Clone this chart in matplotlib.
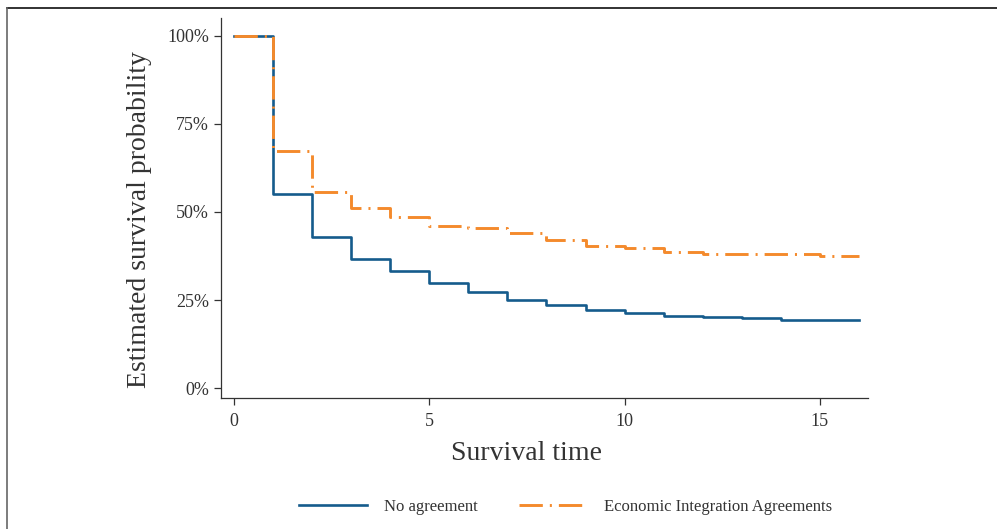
import matplotlib
matplotlib.use("Agg")
from matplotlib import pyplot as plt
from matplotlib.lines import Line2D
from matplotlib.ticker import PercentFormatter

# Kaplan-Meier step values (percent)
times = [0, 1, 2, 3, 4, 5, 6, 7, 8, 9, 10, 11, 12, 13, 14, 15, 16]
no_agreement = [100, 55.2, 43.0, 36.6, 33.2, 29.7, 27.2, 25.1, 23.7, 22.1,
                21.2, 20.4, 20.2, 19.8, 19.3, 19.3, 19.3]
eia = [100, 67.4, 55.6, 51.0, 48.5, 46.0, 45.5, 43.9, 42.1, 40.4,
       39.7, 38.7, 38.1, 38.1, 38.1, 37.4, 37.4]

labels = ["No agreement", "Economic Integration Agreements"]
x_ticks = [0, 5, 10, 15]
y_ticks = [0, 25, 50, 75, 100]

blue = "#155b8c"
orange = "#f48a2c"
dark = "#333333"

plt.rcParams["font.family"] = ["Liberation Serif", "DejaVu Serif"]

fig = plt.figure(figsize=(9.97, 5.29), dpi=100)
ax = fig.add_axes([0.2217, 0.2476, 0.6489, 0.7184])

ax.plot(times, no_agreement, drawstyle="steps-post", color=blue, lw=1.9,
        label=labels[0])
ax.plot(times, eia, drawstyle="steps-post", color=orange, lw=2.1,
        dashes=(8, 2.4, 0.7, 2.4), label=labels[1])

ax.set_xlim(-0.33, 16.23)
ax.set_ylim(-2.84, 105.1)
ax.set_xticks(x_ticks)
ax.set_yticks(y_ticks)
ax.yaxis.set_major_formatter(PercentFormatter(decimals=0))

for side in ["top", "right"]:
    ax.spines[side].set_visible(False)
for side in ["left", "bottom"]:
    ax.spines[side].set_color(dark)
    ax.spines[side].set_linewidth(0.9)
ax.tick_params(axis="both", colors=dark, labelcolor=dark, labelsize=13,
               length=5, width=0.9)
ax.tick_params(axis="x", pad=6)

ax.set_xlabel("Survival time", fontsize=20, color=dark)
ax.set_ylabel("Estimated survival probability", fontsize=20, color=dark)
ax.xaxis.set_label_coords((526 - 221) / 647, -0.112)
ax.yaxis.set_label_coords(-0.106, (398 - 220) / 380)

fig.legend(loc="center", bbox_to_anchor=(0.567, 0.042), ncol=2, frameon=False,
           fontsize=12, handlelength=4.1, columnspacing=2.5,
           handletextpad=1.0, labelcolor=dark)

# partial frame visible in the reference crop
fig.add_artist(Line2D([7 / 997, 1], [1 - 8 / 529, 1 - 8 / 529],
                      transform=fig.transFigure, color="#222222", lw=1.3))
fig.add_artist(Line2D([7 / 997, 7 / 997], [0, 1 - 8 / 529],
                      transform=fig.transFigure, color="#666666", lw=1.2))

fig.savefig("out.png", dpi=100)
